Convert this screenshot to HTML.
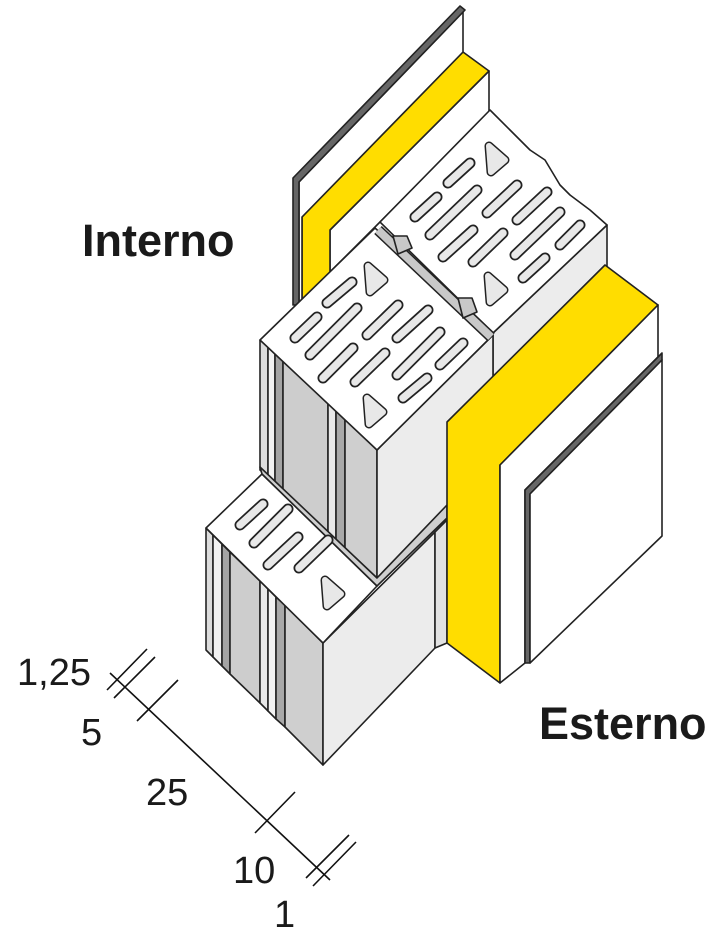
<!DOCTYPE html>
<html><head><meta charset="utf-8"><style>
html,body{margin:0;padding:0;background:#fff;}
svg{display:block;}
</style></head><body>
<svg width="708" height="945" viewBox="0 0 708 945" xmlns="http://www.w3.org/2000/svg" stroke-linejoin="round">
<g stroke="#222" stroke-width="1.6">
<!-- back interior wall -->
<polygon points="330,230 489,71 489,112 380,222 330,272" fill="#fff"/>
<polygon points="302,217 463,52 489,71 330,230 330,310 302,310" fill="#FFDD00"/>
<polygon points="299,182 463,12 463,52 302,217 302,310 299,310" fill="#fff"/>
<polygon points="293,178 460,6 465,10 299,182 299,305 293,305" fill="#666"/>

<!-- back upper block right face -->
<polygon points="493,333 607,225 607,330 493,440" fill="#ececec"/>
<!-- back upper block top -->
<polygon points="380,222 490,110 510,130 520,140 530,150 545,160 560,185 570,195 590,210 607,225 493,333" fill="#fff"/>

<!-- upper front block left face strips -->
<polygon points="260,340 268,347 268,477 260,470" fill="#dcdcdc"/>
<polygon points="268,347 275,354 275,484 268,477" fill="#f2f2f2"/>
<polygon points="275,354 283,361 283,491 275,484" fill="#a4a4a4"/>
<polygon points="283,361 328,403 328,533 283,491" fill="#cdcdcd"/>
<polygon points="328,403 336,410 336,540 328,533" fill="#e8e8e8"/>
<polygon points="336,410 345,418 345,548 336,540" fill="#a8a8a8"/>
<polygon points="345,418 377,450 377,578 345,548" fill="#cfcfcf"/>
<!-- upper front block right face -->
<polygon points="377,450 493,335 493,460 377,578" fill="#ececec"/>
<!-- upper front top -->
<polygon points="260,340 375,228 493,335 377,450" fill="#fff"/>
<!-- joint between upper blocks -->
<line x1="378" y1="230" x2="491" y2="337" stroke="#222" stroke-width="11"/>
<line x1="378" y1="230" x2="491" y2="337" stroke="#c8c8c8" stroke-width="8"/>
<polygon points="393,236 407,236 412,248 398,254" fill="#c8c8c8"/>
<polygon points="458,298 472,298 477,312 463,318" fill="#c8c8c8"/>

<!-- lower block left face strips -->
<polygon points="206,528 213,535 213,657 206,650" fill="#dcdcdc"/>
<polygon points="213,535 222,544 222,666 213,657" fill="#f2f2f2"/>
<polygon points="222,544 230,552 230,674 222,666" fill="#a4a4a4"/>
<polygon points="230,552 260,581 260,703 230,674" fill="#cdcdcd"/>
<polygon points="260,581 268,589 268,711 260,703" fill="#e8e8e8"/>
<polygon points="268,589 276,597 276,719 268,711" fill="#f2f2f2"/>
<polygon points="276,597 285,605 285,727 276,719" fill="#a8a8a8"/>
<polygon points="285,605 323,643 323,765 285,727" fill="#cfcfcf"/>
<!-- lower block right face -->
<polygon points="323,643 435,532 435,648 323,765" fill="#ececec"/>
<polygon points="435,532 447,520 447,643 435,648" fill="#e2e2e2"/>
<!-- lower top visible -->
<polygon points="206,528 262,474 377,586 323,643" fill="#fff"/>
<!-- bed mortar -->
<polygon points="260,467 262,474 377,586 447,518 447,505 377,578" fill="#cfcfcf"/>
</g>

<!-- slots -->
<g stroke-linecap="round">
<g stroke="#222" stroke-width="11">
<line x1="448" y1="183" x2="470" y2="163"/><line x1="430" y1="235" x2="477" y2="190"/><line x1="415" y1="217" x2="437" y2="197"/>
<line x1="487" y1="213" x2="517" y2="185"/><line x1="517" y1="220" x2="547" y2="192"/><line x1="443" y1="257" x2="473" y2="230"/>
<line x1="473" y1="262" x2="503" y2="233"/><line x1="515" y1="255" x2="560" y2="212"/><line x1="560" y1="245" x2="580" y2="225"/>
<line x1="523" y1="278" x2="545" y2="258"/>
<line x1="327" y1="303" x2="352" y2="282"/><line x1="295" y1="338" x2="317" y2="317"/><line x1="310" y1="355" x2="357" y2="308"/>
<line x1="367" y1="335" x2="398" y2="305"/><line x1="397" y1="338" x2="428" y2="310"/><line x1="323" y1="378" x2="353" y2="348"/>
<line x1="355" y1="382" x2="385" y2="353"/><line x1="397" y1="375" x2="440" y2="332"/><line x1="440" y1="365" x2="463" y2="343"/>
<line x1="403" y1="398" x2="427" y2="378"/>
<line x1="240" y1="525" x2="263" y2="504"/><line x1="254" y1="543" x2="288" y2="509"/><line x1="268" y1="565" x2="298" y2="537"/>
<line x1="299" y1="568" x2="328" y2="540"/>
</g>
<g stroke="#e8e8e8" stroke-width="7.5">
<line x1="448" y1="183" x2="470" y2="163"/><line x1="430" y1="235" x2="477" y2="190"/><line x1="415" y1="217" x2="437" y2="197"/>
<line x1="487" y1="213" x2="517" y2="185"/><line x1="517" y1="220" x2="547" y2="192"/><line x1="443" y1="257" x2="473" y2="230"/>
<line x1="473" y1="262" x2="503" y2="233"/><line x1="515" y1="255" x2="560" y2="212"/><line x1="560" y1="245" x2="580" y2="225"/>
<line x1="523" y1="278" x2="545" y2="258"/>
<line x1="327" y1="303" x2="352" y2="282"/><line x1="295" y1="338" x2="317" y2="317"/><line x1="310" y1="355" x2="357" y2="308"/>
<line x1="367" y1="335" x2="398" y2="305"/><line x1="397" y1="338" x2="428" y2="310"/><line x1="323" y1="378" x2="353" y2="348"/>
<line x1="355" y1="382" x2="385" y2="353"/><line x1="397" y1="375" x2="440" y2="332"/><line x1="440" y1="365" x2="463" y2="343"/>
<line x1="403" y1="398" x2="427" y2="378"/>
<line x1="240" y1="525" x2="263" y2="504"/><line x1="254" y1="543" x2="288" y2="509"/><line x1="268" y1="565" x2="298" y2="537"/>
<line x1="299" y1="568" x2="328" y2="540"/>
</g>
</g>
<!-- triangles -->
<g stroke="#222" stroke-width="9" fill="#222">
<polygon points="489,146 505,160 491,172"/><polygon points="488,276 504,290 490,302"/>
<polygon points="368,266 384,280 370,292"/><polygon points="367,398 383,412 369,424"/>
<polygon points="325,580 341,594 327,606"/>
</g>
<g stroke="#e8e8e8" stroke-width="6" fill="#e8e8e8">
<polygon points="489,146 505,160 491,172"/><polygon points="488,276 504,290 490,302"/>
<polygon points="368,266 384,280 370,292"/><polygon points="367,398 383,412 369,424"/>
<polygon points="325,580 341,594 327,606"/>
</g>

<!-- exterior layers -->
<g stroke="#222" stroke-width="1.6">
<polygon points="447,422 605,265 658,305 500,465 500,683 447,643" fill="#FFDD00"/>
<polygon points="500,465 658,305 658,357 525,490 525,663 500,683" fill="#fff"/>
<polygon points="525,490 662,353 662,360 530,494 530,663 525,663" fill="#666"/>
<polygon points="530,494 662,360 662,536 530,663" fill="#fff"/>
</g>

<!-- labels -->
<g font-family="'Liberation Sans',sans-serif" fill="#1a1a1a">
<text x="82" y="256" font-size="45" font-weight="bold">Interno</text>
<text x="539" y="739" font-size="45" font-weight="bold">Esterno</text>
<g font-size="38">
<text x="17" y="685">1,25</text>
<text x="81" y="745">5</text>
<text x="146" y="805">25</text>
<text x="233" y="883">10</text>
<text x="274" y="927">1</text>
</g>
</g>
<!-- dimension line -->
<g stroke="#111" stroke-width="1.6">
<line x1="110" y1="673" x2="330" y2="880"/>
<line x1="107" y1="690" x2="147" y2="649"/>
<line x1="114" y1="698" x2="155" y2="657"/>
<line x1="137" y1="721" x2="178" y2="680"/>
<line x1="255" y1="833" x2="295" y2="792"/>
<line x1="306" y1="878" x2="349" y2="835"/>
<line x1="313" y1="886" x2="356" y2="842"/>
</g>
</svg>
</body></html>
